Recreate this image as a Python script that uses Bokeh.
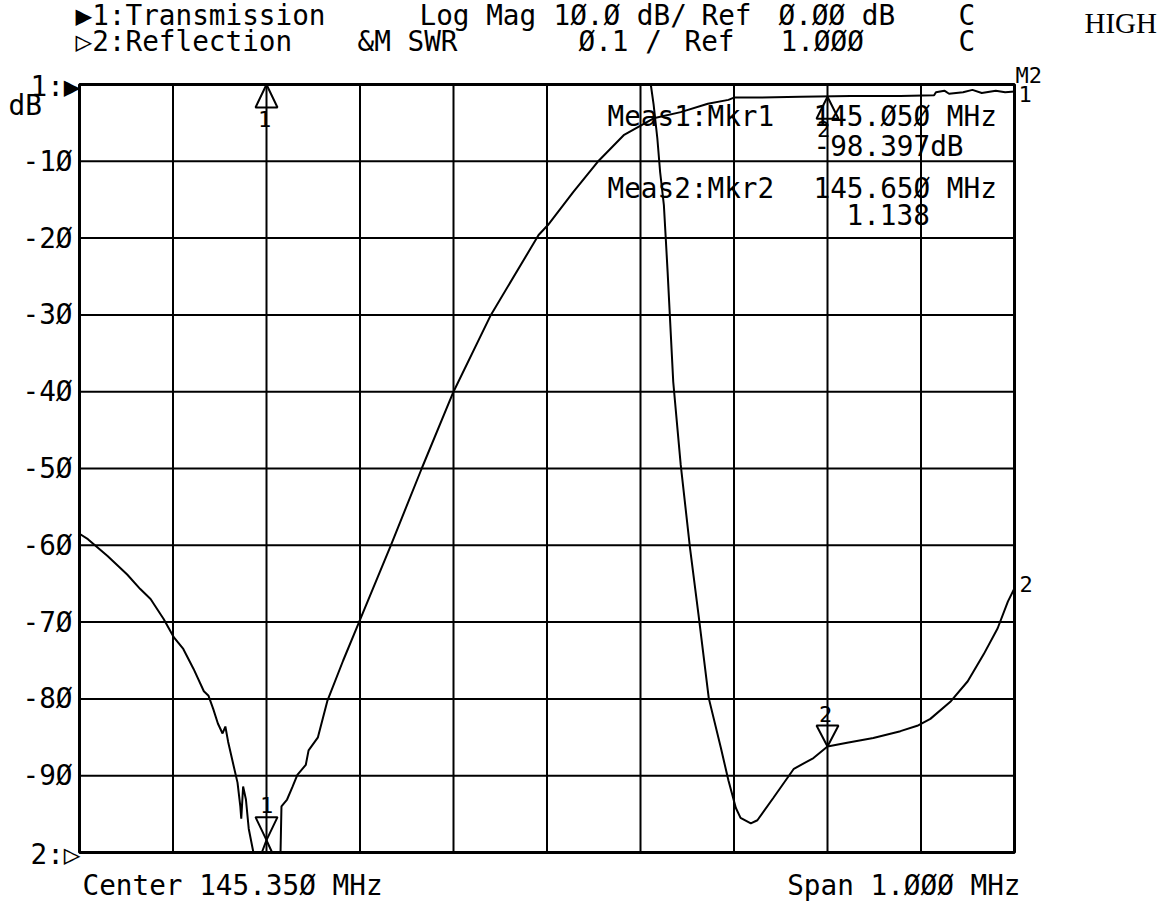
from bokeh.plotting import figure
from bokeh.models import Range1d, Label
from bokeh.embed import file_html
from bokeh.resources import INLINE
from bokeh.core.properties import value

# ---------------- data ----------------
center_mhz = 145.350
span_mhz = 1.000
ref_db = 0.0
db_per_div = 10.0
swr_ref = 1.000
swr_per_div = 0.1
n_div = 10

# Trace 1 : Transmission, log magnitude (dB), display clipped at the bottom
t1_freq = [144.850, 144.859, 144.880, 144.901, 144.915, 144.926, 144.940, 144.951,
           144.961, 144.972, 144.983, 144.988, 144.993, 144.998, 145.003, 145.006,
           145.009, 145.015, 145.019, 145.022, 145.023, 145.025, 145.028, 145.031,
           145.036, 145.045, 145.050, 145.056, 145.061, 145.065, 145.066, 145.072,
           145.078, 145.083, 145.092, 145.095, 145.105, 145.115, 145.132, 145.149,
           145.183, 145.216, 145.250, 145.290, 145.341, 145.351, 145.378, 145.404,
           145.432, 145.464, 145.493, 145.522, 145.544, 145.550, 145.578, 145.621,
           145.675, 145.728, 145.764, 145.766, 145.775, 145.780, 145.795, 145.805,
           145.815, 145.830, 145.840, 145.850]
t1_db = [-58.5, -59.2, -61.4, -63.8, -65.7, -67.0, -69.6, -72.0,
         -73.5, -76.1, -79.0, -79.6, -81.3, -83.2, -84.5, -83.6,
         -85.6, -88.8, -90.9, -94.0, -95.6, -91.4, -93.1, -96.9,
         -100.0, -100.0, -98.4, -100.0, -100.0, -100.0, -94.0, -93.1,
         -91.4, -89.9, -88.6, -86.7, -85.0, -80.3, -75.0, -70.0,
         -60.0, -50.0, -40.0, -30.0, -19.6, -18.3, -14.0, -10.1,
         -6.6, -4.4, -3.6, -2.5, -2.0, -1.7, -1.7, -1.6,
         -1.5, -1.5, -1.4, -1.0, -0.8, -1.2, -1.0, -0.7,
         -1.1, -0.8, -1.0, -0.9]

# Trace 2 : Reflection, SWR (display clipped at the top of the grid)
t2_freq = [144.850, 145.461, 145.464, 145.468, 145.471, 145.475, 145.477, 145.479,
           145.485, 145.493, 145.503, 145.512, 145.523, 145.536, 145.544, 145.552,
           145.557, 145.568, 145.575, 145.592, 145.614, 145.635, 145.650, 145.671,
           145.699, 145.728, 145.746, 145.760, 145.782, 145.800, 145.817, 145.832,
           145.843, 145.850]
t2_swr = [2.000, 2.000, 1.974, 1.930, 1.886, 1.843, 1.800, 1.756,
          1.613, 1.505, 1.396, 1.310, 1.201, 1.136, 1.094, 1.058,
          1.045, 1.038, 1.042, 1.071, 1.109, 1.123, 1.138, 1.143,
          1.149, 1.158, 1.165, 1.174, 1.197, 1.223, 1.258, 1.292,
          1.327, 1.344]

# markers
mkr_freq = [145.050, 145.650]
mkr_t1_db = [-98.397, -1.6]
mkr_t2_swr = [2.000, 1.138]
mkr_names = ["1", "2"]

# y tick labels
y_tick_db = [-10, -20, -30, -40, -50, -60, -70, -80, -90]
y_tick_lbl = ["-1Ø", "-2Ø", "-3Ø", "-4Ø", "-5Ø", "-6Ø", "-7Ø", "-8Ø", "-9Ø"]

# texts
hdr1_text = ["▶1:Transmission", "Log Mag", "1Ø.Ø dB/", "Ref", "Ø.ØØ dB", "C"]
hdr2_text = ["▷2:Reflection", "&M SWR", "Ø.1 /", "Ref", "1.ØØØ", "C"]
meas_text = ["Meas1:Mkr1", "145.Ø5Ø MHz", "-98.397dB", "Meas2:Mkr2", "145.65Ø MHz", "1.138"]
center_text = "Center 145.35Ø MHz"
span_text = "Span 1.ØØØ MHz"
note_text = "HIGH"

# ---------------- layout / style ----------------
MONO = "DejaVu Sans Mono"
FS = "27.7px"
MFS = "22px"
CW, CH = 1165, 906        # canvas
FL, FT = 79, 84           # grid left / top (px)
FW, FH = 935, 768         # grid size (px)

hdr1_x = [75, 419, 553, 701, 778, 958]
hdr2_x = [75, 357, 578, 684, 780, 958]
hdr_y = [15, 41]
meas_x = [607, 813, 813, 607, 813, 846]
meas_y = [116, 116, 146, 188, 188, 214]

F0 = center_mhz - span_mhz / 2
F1 = center_mhz + span_mhz / 2
DB_TOP = ref_db
DB_BOT = ref_db - db_per_div * n_div
SWR_BOT = swr_ref
SWR_TOP = swr_ref + swr_per_div * n_div


def xd(xp):
    return F0 + (xp - FL) * (F1 - F0) / FW


def yd(yp):
    return DB_TOP - (yp - FT) * (DB_TOP - DB_BOT) / FH


def ys(yp):
    return SWR_TOP - (yp - FT) * (SWR_TOP - SWR_BOT) / FH


def dx(px):
    return px * (F1 - F0) / FW


def ddb(px):
    return px * (DB_TOP - DB_BOT) / FH


def dswr(px):
    return px * (SWR_TOP - SWR_BOT) / FH


p = figure(frame_width=CW, frame_height=CH,
           x_range=Range1d(xd(0), xd(CW)), y_range=Range1d(yd(CH), yd(0)),
           x_axis_location=None, y_axis_location=None,
           output_backend="svg", toolbar_location=None,
           min_border=0, min_border_left=0, min_border_right=0,
           min_border_top=0, min_border_bottom=0)
p.title.visible = False
p.extra_y_ranges = {"swr": Range1d(ys(CH), ys(0))}
p.background_fill_color = "white"
p.border_fill_color = "white"
p.outline_line_color = None
p.xgrid.visible = False
p.ygrid.visible = False

# graticule (10 x 10 divisions)
vx = [F0 + span_mhz / n_div * k for k in range(1, n_div)]
p.segment(x0=vx, y0=[DB_BOT] * len(vx), x1=vx, y1=[DB_TOP] * len(vx),
          line_color="black", line_width=2)
p.segment(x0=[F0] * len(y_tick_db), y0=y_tick_db, x1=[F1] * len(y_tick_db), y1=y_tick_db,
          line_color="black", line_width=2)
p.quad(left=[F0], right=[F1], bottom=[DB_BOT], top=[DB_TOP],
       fill_color=None, line_color="black", line_width=3)

# y tick labels
p.text(x=[xd(FL - 7)] * len(y_tick_db), y=y_tick_db, text=y_tick_lbl,
       text_font=value(MONO), text_font_size=FS, text_align="right",
       text_baseline="middle", text_color="black")

# traces
p.line(t1_freq, t1_db, line_color="black", line_width=2)
p.line(t2_freq, t2_swr, line_color="black", line_width=2, y_range_name="swr")

# marker triangles
f1, f2 = mkr_freq
hw = dx(11)
xs_tri = [[f1 - hw, f1 + hw, f1], [f2 - hw, f2 + hw, f2]]
ys_db = [[mkr_t1_db[0] + ddb(23), mkr_t1_db[0] + ddb(23), mkr_t1_db[0]],
         [mkr_t1_db[1] - ddb(22), mkr_t1_db[1] - ddb(22), mkr_t1_db[1]]]
p.patches(xs_tri, ys_db, fill_alpha=0, line_color="black", line_width=2)
ys_sw = [[mkr_t2_swr[0] - dswr(23), mkr_t2_swr[0] - dswr(23), mkr_t2_swr[0]],
         [mkr_t2_swr[1] + dswr(21), mkr_t2_swr[1] + dswr(21), mkr_t2_swr[1]]]
p.patches(xs_tri, ys_sw, fill_alpha=0, line_color="black", line_width=2, y_range_name="swr")


def lab(x, y, text, size=FS, align="left", font=MONO, y_range_name="default"):
    p.add_layout(Label(x=x, y=y, text=text, text_font=font, text_font_size=size,
                       text_align=align, text_baseline="middle", text_color="black",
                       y_range_name=y_range_name))


# marker numbers
lab(f1, mkr_t1_db[0] + ddb(35), mkr_names[0], MFS, "center")
lab(f2 - dx(4), mkr_t1_db[1] - ddb(32), mkr_names[1], MFS, "center")
lab(f1 - dx(2), mkr_t2_swr[0] - dswr(34), mkr_names[0], MFS, "center", y_range_name="swr")
lab(f2 - dx(2), mkr_t2_swr[1] + dswr(33), mkr_names[1], MFS, "center", y_range_name="swr")

# trace end labels
lab(F1 + dx(4), t1_db[-1] - ddb(3), "1", MFS)
lab(F1 + dx(1), yd(75), "M2", MFS)
lab(F1 + dx(5), t2_swr[-1] + dswr(4), "2", MFS, y_range_name="swr")

# header lines
for t, xp in zip(hdr1_text, hdr1_x):
    lab(xd(xp), yd(hdr_y[0]), t)
for t, xp in zip(hdr2_text, hdr2_x):
    lab(xd(xp), yd(hdr_y[1]), t)
lab(xd(1084), yd(22), note_text, "29px", font="Liberation Serif")

# measurement block
for t, xp, yp in zip(meas_text, meas_x, meas_y):
    lab(xd(xp), yd(yp), t)

# left reference labels
lab(xd(FL + 1), yd(FT + 2), "1:▶", FS, "right")
lab(xd(8), yd(105), "dB", FS)
lab(xd(FL + 1), yd(FT + FH + 2), "2:▷", FS, "right")

# bottom texts
lab(xd(82), yd(885), center_text)
lab(xd(1020), yd(885), span_text, FS, "right")

open("out.html", "w").write(file_html(p, INLINE))
